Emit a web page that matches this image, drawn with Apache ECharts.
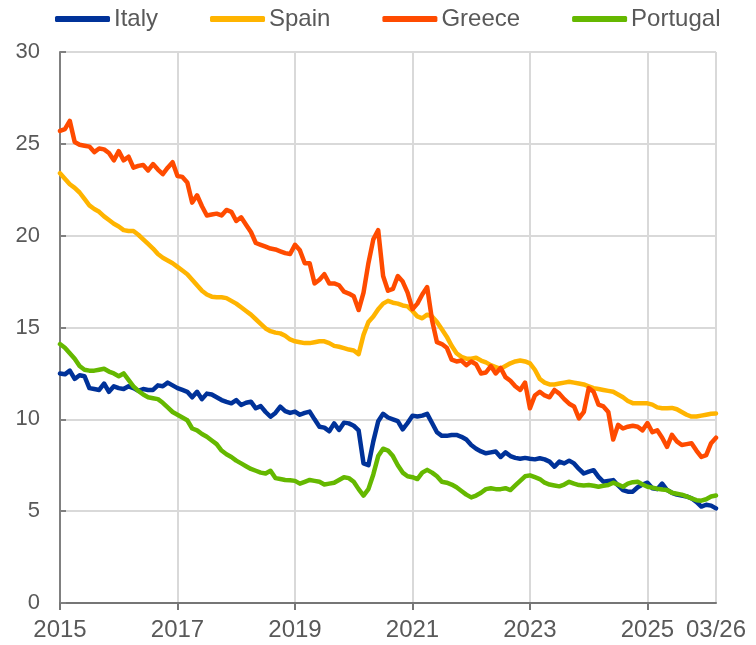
<!DOCTYPE html>
<html>
<head>
<meta charset="utf-8">
<script src="https://cdn.jsdelivr.net/npm/echarts@6/dist/echarts.min.js"></script>
<style>
  html, body { margin: 0; padding: 0; background: #fff; }
  #chart { width: 756px; height: 645px; }
</style>
</head>
<body>
<div id="chart"></div>
<script>
// monthly, Jan 2015 .. Mar 2026
const months = []
for (let y = 2015; y <= 2026; y++) {
  for (let m = 1; m <= 12; m++) {
    if (y === 2026 && m > 3) break
    months.push(String(m).padStart(2, '0') + '/' + String(y).slice(2))
  }
}

const tickIndex = [0, 24, 48, 72, 96, 120, 134]
const tickLabels = ['2015', '2017', '2019', '2021', '2023', '2025', '03/26']

const italy = [
  12.5, 12.45, 12.65, 12.2, 12.4, 12.35, 11.7, 11.65, 11.6, 11.95, 11.5, 11.8,
  11.7, 11.65, 11.8, 11.7, 11.55, 11.65, 11.6, 11.6, 11.85, 11.8, 12.0, 11.85,
  11.7, 11.6, 11.5, 11.2, 11.5, 11.1, 11.4, 11.35, 11.2, 11.05, 10.95, 10.87,
  11.05, 10.78, 10.9, 10.96, 10.6, 10.72, 10.4, 10.14, 10.35, 10.69, 10.45, 10.35,
  10.42, 10.25, 10.35, 10.42, 10.0, 9.6, 9.55, 9.35, 9.78, 9.42, 9.82, 9.78,
  9.65, 9.4, 7.6, 7.5, 8.8, 9.9, 10.3, 10.1, 10.0, 9.9, 9.45, 9.8,
  10.2, 10.15, 10.2, 10.3, 9.8, 9.3, 9.1, 9.1, 9.15, 9.15, 9.05, 8.9,
  8.6, 8.4, 8.25, 8.15, 8.2, 8.25, 7.95, 8.2, 8.0, 7.9, 7.85, 7.9,
  7.85, 7.82, 7.88, 7.82, 7.7, 7.42, 7.7, 7.6, 7.75, 7.6, 7.3, 7.05,
  7.15, 7.23, 6.87, 6.6, 6.65, 6.69, 6.4, 6.15, 6.06, 6.06, 6.3, 6.45,
  6.55, 6.25, 6.2, 6.5, 6.15, 6.0, 5.9, 5.85, 5.8, 5.7, 5.5, 5.25,
  5.35, 5.3, 5.15
]

const spain = [
  23.4, 23.1, 22.8, 22.6, 22.35, 22.0, 21.65, 21.45, 21.3, 21.05, 20.85, 20.65,
  20.5, 20.3, 20.25, 20.25, 20.05, 19.8, 19.55, 19.3, 19.0, 18.8, 18.65, 18.5,
  18.3, 18.1, 17.9, 17.6, 17.3, 17.0, 16.8, 16.68, 16.65, 16.65, 16.6, 16.45,
  16.3, 16.1, 15.9, 15.7, 15.45, 15.2, 14.95, 14.8, 14.72, 14.68, 14.55, 14.35,
  14.25, 14.2, 14.15, 14.15, 14.2, 14.25, 14.25, 14.15, 14.0, 13.95, 13.88, 13.8,
  13.75, 13.55, 14.6, 15.3, 15.6, 16.0, 16.3, 16.45, 16.35, 16.3, 16.2, 16.15,
  15.9, 15.6, 15.5, 15.7, 15.6, 15.3, 14.9, 14.5, 14.0, 13.6, 13.4, 13.3,
  13.3, 13.35, 13.2, 13.1, 12.95, 12.85, 12.75, 12.9, 13.05, 13.15, 13.2, 13.15,
  13.05, 12.7, 12.2, 12.0, 11.9, 11.9, 11.95, 12.0, 12.05, 12.0, 11.95, 11.9,
  11.8, 11.7, 11.65, 11.6, 11.55, 11.5, 11.35, 11.2, 11.0, 10.88, 10.87, 10.88,
  10.87, 10.8, 10.65, 10.6, 10.6, 10.62, 10.55, 10.4, 10.25, 10.15, 10.15, 10.2,
  10.25, 10.3, 10.32
]

const greece = [
  25.7, 25.8, 26.25, 25.1, 24.95, 24.9, 24.85, 24.55, 24.75, 24.7, 24.5, 24.1,
  24.6, 24.1, 24.3, 23.7, 23.8, 23.85, 23.55, 23.9, 23.6, 23.35, 23.7, 24.0,
  23.25, 23.2, 22.9, 21.8, 22.2, 21.6, 21.1, 21.15, 21.2, 21.1, 21.4, 21.3,
  20.8, 21.0, 20.6, 20.2, 19.6, 19.5, 19.4, 19.3, 19.25, 19.15, 19.05, 19.0,
  19.5, 19.2, 18.5, 18.5, 17.4, 17.6, 17.9, 17.4, 17.4, 17.3, 16.95, 16.85,
  16.7, 15.95, 16.9, 18.5, 19.8, 20.3, 17.8, 17.0, 17.1, 17.8, 17.5, 16.9,
  16.0, 16.3, 16.8, 17.2, 15.4, 14.2, 14.1, 13.9, 13.25, 13.15, 13.2, 12.95,
  13.15, 13.0, 12.5, 12.55, 12.9, 12.5, 12.8, 12.3, 12.1, 11.8, 11.6, 12.0,
  10.6, 11.3, 11.5, 11.3, 11.2, 11.6, 11.4, 11.1, 10.85, 10.7, 10.05, 10.4,
  11.7, 11.5, 10.8, 10.7, 10.4, 8.9, 9.7, 9.5, 9.6, 9.65, 9.6, 9.4,
  9.8, 9.3, 9.4, 9.0, 8.5, 9.15, 8.8, 8.6, 8.65, 8.7, 8.3, 7.95,
  8.05, 8.7, 9.0
]

const portugal = [
  14.1, 13.9, 13.6, 13.3, 12.9, 12.7, 12.65, 12.65, 12.7, 12.75, 12.6, 12.5,
  12.35, 12.5, 12.15, 11.8, 11.55, 11.35, 11.2, 11.15, 11.1, 10.9, 10.65, 10.4,
  10.25, 10.1, 9.95, 9.5, 9.4, 9.2, 9.05, 8.85, 8.65, 8.3, 8.1, 7.95,
  7.75, 7.6, 7.45, 7.3, 7.2, 7.1, 7.05, 7.2, 6.8, 6.75, 6.7, 6.68,
  6.65, 6.5, 6.6, 6.7, 6.65, 6.6, 6.45, 6.5, 6.55, 6.7, 6.85, 6.8,
  6.6, 6.2, 5.85, 6.2, 7.0, 8.0, 8.4, 8.3, 8.0, 7.5, 7.1, 6.9,
  6.85, 6.75, 7.1, 7.25, 7.1, 6.9, 6.6, 6.55, 6.45, 6.3, 6.1, 5.9,
  5.75, 5.85, 6.0, 6.2, 6.25, 6.2, 6.2, 6.25, 6.15, 6.4, 6.65, 6.9,
  6.95, 6.85, 6.75, 6.55, 6.45, 6.4, 6.35, 6.45, 6.6, 6.5, 6.42, 6.4,
  6.42, 6.38, 6.33, 6.38, 6.42, 6.55, 6.45, 6.33, 6.5, 6.58, 6.6, 6.45,
  6.33, 6.28, 6.22, 6.18, 6.15, 6.0, 5.95, 5.9, 5.8, 5.7, 5.6, 5.57,
  5.65, 5.8, 5.85
]

const seriesNames = ['Italy', 'Spain', 'Greece', 'Portugal']
const seriesColors = ['#003299', '#FFB400', '#FF4B00', '#65B800']
const seriesData = [italy, spain, greece, portugal]

const textColor = '#595959'
const fontFamily = "'Liberation Sans', Arial, sans-serif"

const showAt = (i) => tickIndex.indexOf(i) !== -1

const chart = echarts.init(document.getElementById('chart'), null, { renderer: 'canvas' })

chart.setOption({
  animation: false,
  legend: {
    left: 50,
    top: 2,
    itemGap: 52,
    itemWidth: 55,
    itemHeight: 6,
    icon: 'roundRect',
    textStyle: { color: textColor, fontSize: 24, fontFamily: fontFamily, padding: [0, 0, 0, -1] },
    data: seriesNames
  },
  grid: { left: 60, right: 40, top: 52, bottom: 42, containLabel: false },
  xAxis: {
    type: 'category',
    data: months,
    boundaryGap: false,
    axisLine: { lineStyle: { color: '#767676', width: 2 } },
    axisTick: {
      interval: (i) => showAt(i) && i !== 134,
      length: 7,
      lineStyle: { color: '#767676', width: 2 }
    },
    axisLabel: {
      interval: (i) => showAt(i),
      formatter: (v, i) => tickLabels[tickIndex.indexOf(i)],
      color: textColor,
      fontSize: 24,
      fontFamily: fontFamily,
      margin: 15
    },
    splitLine: {
      show: true,
      interval: (i) => showAt(i) && i !== 0,
      lineStyle: { color: '#d9d9d9', width: 2 }
    }
  },
  yAxis: {
    type: 'value',
    min: 0,
    max: 30,
    interval: 5,
    axisLine: { show: true, lineStyle: { color: '#808080', width: 2 } },
    axisTick: { show: true, inside: true, length: 6, lineStyle: { color: '#808080', width: 2 } },
    axisLabel: { color: textColor, fontSize: 22, fontFamily: fontFamily, margin: 20 },
    splitLine: { lineStyle: { color: '#d9d9d9', width: 2 } }
  },
  series: seriesNames.map((name, k) => ({
    name: name,
    type: 'line',
    data: seriesData[k],
    showSymbol: false,
    symbol: 'none',
    color: seriesColors[k],
    lineStyle: { width: 4.5, color: seriesColors[k], cap: 'round', join: 'round' }
  }))
})
</script>
</body>
</html>
